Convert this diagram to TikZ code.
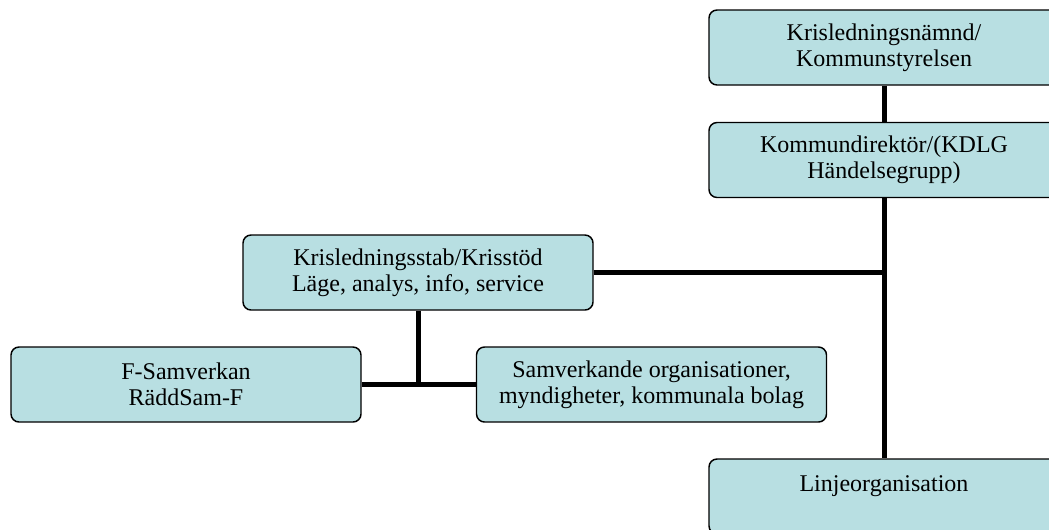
\documentclass[tikz,border=0pt]{standalone}
\usepackage{fontspec}
\setmainfont{Liberation Serif}
\definecolor{boxfill}{RGB}{184,223,226}
\begin{document}
\begin{tikzpicture}[x=0.75pt,y=-0.75pt,
    orgbox/.style={draw, line width=1.1pt, fill=boxfill, rounded corners=6pt,
      minimum width=262.5pt, minimum height=56.25pt, align=center, inner sep=0pt},
    orgline/.style={line width=3.75pt}]
                    \clip (0,0) rectangle (1049,529);
                    {\fontsize{18}{19.5}\selectfont

                    % Drawing box Krisledningsnamnd
                    \node [orgbox] (namnd) at (884,47.5) {Krisledningsnämnd/\\Kommunstyrelsen};%

                    % Drawing box Kommundirektor
                    \node [orgbox] (direktor) at (884,160) {Kommundirektör/(KDLG\\Händelsegrupp)};%

                    % Drawing box Krisledningsstab
                    \node [orgbox] (stab) at (418,272.5) {Krisledningsstab/Krisstöd\\Läge, analys, info, service};%

                    % Drawing box F-Samverkan
                    \node [orgbox] (fsam) at (186,384.5) {F-Samverkan\\RäddSam-F};%

                    % Drawing box Samverkande
                    \node [orgbox] (samverk) at (651.5,384.5) {Samverkande organisationer,\\myndigheter, kommunala bolag};%

                    % Drawing box Linjeorganisation
                    \node [orgbox] (linje) at (884,496.5) {Linjeorganisation\\~};%

                    % Drawing junction on the main line
                    \coordinate (junction) at (direktor.south |- stab.east);%

                    % Drawing line namnd direktor
                    \draw [orgline] (namnd.south) -- (direktor.north);%

                    % Drawing line direktor linje
                    \draw [orgline] (direktor.south) -- (linje.north);%

                    % Drawing line stab junction
                    \draw [orgline] (stab.east) -- (junction);%

                    % Drawing line stab down
                    \draw [orgline] (stab.south) -- (stab.south |- fsam.east);%

                    % Drawing line fsam samverk
                    \draw [orgline] (fsam.east) -- (samverk.west);%
                    }
                    \end{tikzpicture}
\end{document}
